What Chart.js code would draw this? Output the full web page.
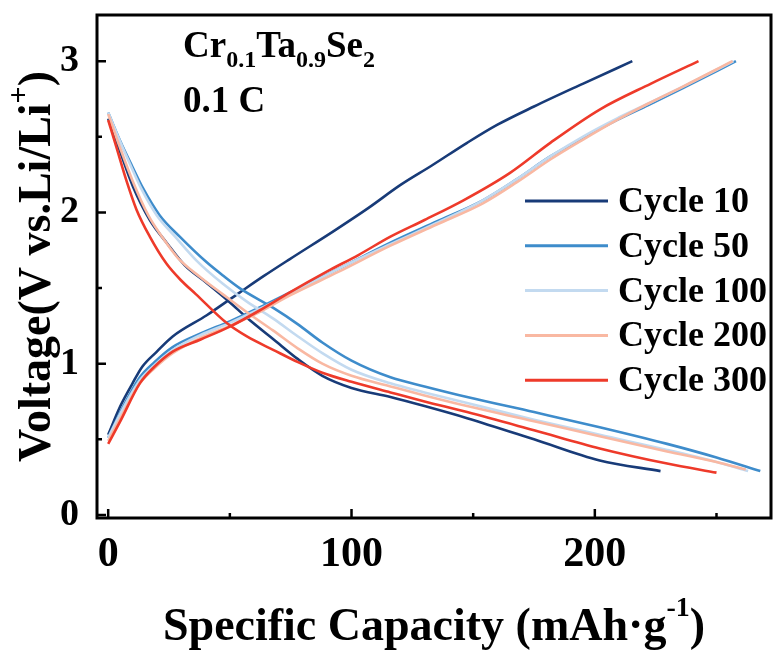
<!DOCTYPE html>
<html>
<head>
<meta charset="utf-8">
<script src="https://cdn.jsdelivr.net/npm/chart.js@4.4.1/dist/chart.umd.min.js"></script>
<style>
  html, body { margin: 0; padding: 0; background: #fff; }
  #wrap { width: 777px; height: 652px; }
</style>
</head>
<body>
<div id="wrap"><canvas id="chart"></canvas></div>
<script>
// Voltage profiles, [capacity mAh/g, voltage V].
const cycleLabels = ["Cycle 10", "Cycle 50", "Cycle 100", "Cycle 200", "Cycle 300"];
const cycleColors = ["#183b78", "#3e8ccb", "#c3daf0", "#f9b8a2", "#ee3a2a"];

const dis10 = [[0,2.62],[4.7,2.41],[10.2,2.17],[17.1,1.95],[24,1.80],[31.5,1.65],[40,1.54],[49,1.42],[58,1.29],[68,1.16],[78,1.03],[88,0.92],[100,0.84],[116,0.78],[130,0.72],[147.5,0.64],[175,0.50],[202,0.36],[227,0.29]];
const dis50 = [[0,2.66],[4.7,2.48],[10,2.30],[14.3,2.16],[21.2,1.98],[29.4,1.84],[40.5,1.67],[47,1.585],[54,1.50],[67.7,1.37],[78,1.26],[88,1.14],[100,1.02],[116,0.91],[130,0.85],[147.5,0.78],[175,0.68],[202,0.58],[229.7,0.47],[250,0.38],[268,0.29]];
const dis100 = [[0,2.66],[4.6,2.48],[9.5,2.30],[13.5,2.16],[20,1.98],[27.5,1.84],[36.4,1.68],[47,1.53],[57,1.41],[67.7,1.30],[78,1.18],[88,1.07],[100,0.96],[116,0.87],[130,0.81],[147.5,0.74],[175,0.63],[202,0.53],[229.7,0.43],[250,0.35],[263,0.29]];
const dis200 = [[0,2.65],[4.6,2.44],[10,2.21],[16.5,1.98],[22.5,1.83],[28.6,1.70],[38,1.57],[47,1.46],[57,1.34],[67.7,1.22],[78,1.10],[88,1.00],[100,0.92],[116,0.85],[130,0.79],[147.5,0.72],[175,0.62],[202,0.52],[229.7,0.42],[250,0.35],[262,0.30]];
const dis300 = [[0,2.61],[3.4,2.43],[7.5,2.21],[11.6,2.02],[17.1,1.84],[24,1.66],[30,1.55],[36,1.46],[48.6,1.27],[57,1.18],[68,1.09],[78,1.01],[88,0.94],[100,0.88],[116,0.81],[130,0.75],[147.5,0.68],[175,0.56],[202,0.44],[229.7,0.34],[250,0.28]];

const chg10 = [[0,0.53],[5,0.72],[10,0.87],[14,0.98],[20,1.08],[26.5,1.18],[40.5,1.32],[54,1.47],[64,1.58],[74.5,1.69],[93,1.88],[107,2.03],[120,2.18],[133,2.31],[147.5,2.46],[160,2.58],[175,2.70],[195,2.85],[215.4,3.0]];
const chg50 = [[0,0.51],[5,0.68],[13,0.91],[19,1.01],[26.5,1.11],[38,1.20],[50,1.28],[62,1.37],[74.5,1.47],[95,1.63],[116,1.80],[135,1.94],[154,2.08],[168,2.22],[181.7,2.37],[195,2.49],[209,2.61],[222,2.71],[236,2.82],[258,3.0]];
const chg100 = [[0,0.51],[5,0.67],[13,0.89],[19,0.99],[26.5,1.09],[38,1.19],[50,1.27],[62,1.36],[74.5,1.46],[95,1.63],[116,1.79],[135,1.93],[154,2.08],[168,2.22],[181.7,2.37],[195,2.50],[209,2.62],[222,2.72],[236,2.83],[257,3.0]];
const chg200 = [[0,0.49],[5,0.64],[13,0.87],[19,0.97],[26.5,1.07],[38,1.17],[50,1.25],[62,1.34],[74.5,1.45],[95,1.61],[116,1.78],[135,1.92],[154,2.06],[168,2.20],[181.7,2.35],[195,2.48],[209,2.61],[222,2.72],[236,2.83],[256.6,3.0]];
const chg300 = [[0,0.47],[5,0.62],[13,0.87],[19,0.98],[26.5,1.08],[38,1.16],[50,1.245],[62,1.35],[74.5,1.47],[90,1.61],[103,1.72],[116,1.84],[130,1.95],[146,2.08],[165,2.26],[181.7,2.46],[202,2.68],[222.9,2.85],[242.6,3.0]];

const xTicks = [0, 100, 200];
const xMinorTicks = [50, 150, 250];
const yTicks = [0, 1, 2, 3];
const yMinorTicks = [0.5, 1.5, 2.5];

const FONT = "'Liberation Serif', 'Times New Roman', serif";
const discharge = [dis10, dis50, dis100, dis200, dis300];
const charge = [chg10, chg50, chg100, chg200, chg300];

const datasets = [];
cycleLabels.forEach(function (label, i) {
  [discharge[i], charge[i]].forEach(function (curve) {
    datasets.push({
      label: label,
      data: curve.map((p) => ({ x: p[0], y: p[1] })),
      borderColor: cycleColors[i],
      borderWidth: 2.6,
      pointRadius: 0,
      fill: false,
      cubicInterpolationMode: "monotone",
      order: 10 - i,
    });
  });
});

// draw a run of text pieces (sub/superscripts) starting at x; returns width
function textRuns(ctx, parts, x, y, measureOnly) {
  let w = 0;
  parts.forEach(function (p) {
    ctx.font = `bold ${p.size}px ${FONT}`;
    if (!measureOnly) ctx.fillText(p.t, x + w, y + (p.dy || 0));
    w += ctx.measureText(p.t).width;
  });
  return w;
}

const decorations = {
  id: "decorations",
  afterDraw(chart) {
    const ctx = chart.ctx;
    const a = chart.chartArea;
    const xs = chart.scales.x, ys = chart.scales.y;
    ctx.save();
    ctx.strokeStyle = "#000";
    ctx.fillStyle = "#000";

    // frame
    ctx.lineWidth = 3;
    ctx.strokeRect(a.left, a.top, a.right - a.left, a.bottom - a.top);

    // inward ticks
    ctx.lineWidth = 2.5;
    ctx.beginPath();
    xTicks.forEach((v) => { const px = xs.getPixelForValue(v); ctx.moveTo(px, a.bottom); ctx.lineTo(px, a.bottom - 9); });
    xMinorTicks.forEach((v) => { const px = xs.getPixelForValue(v); ctx.moveTo(px, a.bottom); ctx.lineTo(px, a.bottom - 5); });
    yTicks.forEach((v) => { const py = ys.getPixelForValue(v); ctx.moveTo(a.left, py); ctx.lineTo(a.left + 9, py); });
    yMinorTicks.forEach((v) => { const py = ys.getPixelForValue(v); ctx.moveTo(a.left, py); ctx.lineTo(a.left + 5, py); });
    ctx.stroke();

    ctx.textBaseline = "alphabetic";
    ctx.textAlign = "left";

    // x title
    const xt = [{ t: "Specific Capacity (mAh·g", size: 46 }, { t: "-1", size: 28, dy: -24 }, { t: ")", size: 46 }];
    const xw = textRuns(ctx, xt, 0, 0, true);
    textRuns(ctx, xt, (a.left + a.right) / 2 - xw / 2, 640);

    // y title
    const yt = [{ t: "Voltage(V vs.Li/Li", size: 46 }, { t: "+", size: 30, dy: -22 }, { t: ")", size: 46 }];
    const yw = textRuns(ctx, yt, 0, 0, true);
    ctx.save();
    ctx.translate(50, (a.top + a.bottom) / 2);
    ctx.rotate(-Math.PI / 2);
    textRuns(ctx, yt, -yw / 2, 0);
    ctx.restore();

    // composition + rate
    textRuns(ctx, [
      { t: "Cr", size: 37 }, { t: "0.1", size: 24, dy: 10 },
      { t: "Ta", size: 37 }, { t: "0.9", size: 24, dy: 10 },
      { t: "Se", size: 37 }, { t: "2", size: 24, dy: 10 },
    ], a.left + 86, a.top + 42);
    textRuns(ctx, [{ t: "0.1 C", size: 37 }], a.left + 86, a.top + 97);

    // legend
    cycleLabels.forEach(function (label, i) {
      const y = a.top + 186 + i * 44.8;
      ctx.strokeStyle = cycleColors[i];
      ctx.lineWidth = 3;
      ctx.beginPath();
      ctx.moveTo(a.right - 246, y);
      ctx.lineTo(a.right - 163, y);
      ctx.stroke();
      textRuns(ctx, [{ t: label, size: 36 }], a.right - 153, y + 11);
    });
    ctx.restore();
  },
};

const tickFont = (size) => ({ family: FONT, size: size, weight: "bold", lineHeight: 1 });
// keep the axes from asking for extra room around the plot
const noPad = (s) => { s.paddingTop = 0; s.paddingBottom = 0; s.paddingLeft = 0; s.paddingRight = 0; };

new Chart(document.getElementById("chart"), {
  type: "line",
  data: { datasets: datasets },
  options: {
    responsive: true,
    maintainAspectRatio: false,
    animation: false,
    layout: { padding: { top: 15, right: 6, left: 0, bottom: 0 } },
    plugins: { legend: { display: false }, tooltip: { enabled: false } },
    scales: {
      x: {
        type: "linear",
        min: -4.6,
        max: 272.4,
        grid: { display: false },
        border: { display: false },
        ticks: { font: tickFont(42), color: "#000", padding: 8, maxRotation: 0, autoSkip: false },
        afterBuildTicks: (s) => { s.ticks = xTicks.map((v) => ({ value: v })); },
        afterFit: (s) => { s.height = 134; noPad(s); },
      },
      y: {
        type: "linear",
        min: -0.02,
        max: 3.305,
        grid: { display: false },
        border: { display: false },
        ticks: { font: tickFont(38), color: "#000", padding: 10, autoSkip: false },
        afterBuildTicks: (s) => { s.ticks = yTicks.map((v) => ({ value: v })); },
        afterFit: (s) => { s.width = 97; noPad(s); },
      },
    },
  },
  plugins: [decorations],
});
</script>
</body>
</html>
